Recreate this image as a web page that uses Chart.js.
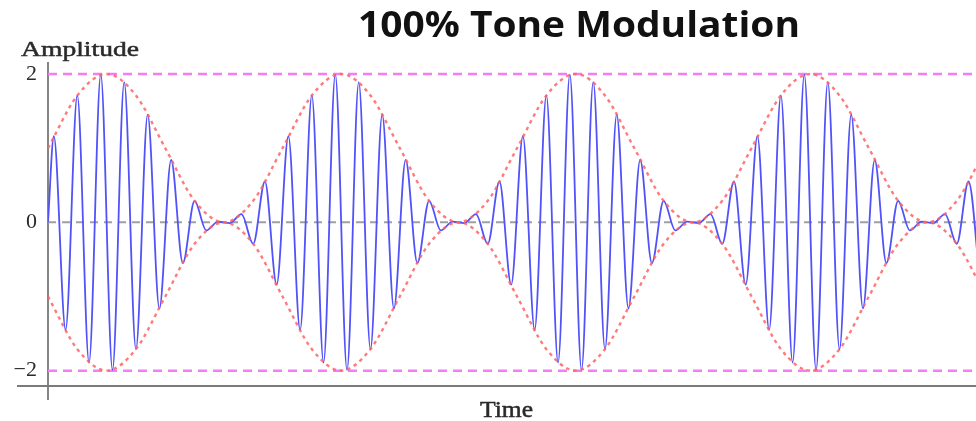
<!DOCTYPE html>
<html>
<head>
<meta charset="utf-8">
<title>100% Tone Modulation</title>
<script src="https://cdn.jsdelivr.net/npm/chart.js@4.4.1/dist/chart.umd.min.js"></script>
<style>
  html, body { margin: 0; padding: 0; background: #fff; }
  #chartBox { width: 976px; height: 421px; }
</style>
</head>
<body>
<div id="chartBox"><canvas id="amChart" width="976" height="421"></canvas></div>
<script>
// axis values
const yTicks = [-2, 0, 2];
const refLevels = [2, -2];
const zeroLevel = 0;
const timeMin = 0;
const timeMax = 39.57;

// carrier peaks, one per half cycle (4 lobes)
const signalStart = 0;
const signalPeaks = [
  1.16, -1.45, 1.71, -1.89, 1.99, -1.99, 1.89, -1.71, 1.45, -1.16, 0.84, -0.55, 0.29, -0.11, 0.01, -0.01, 0.11, -0.29, 0.55, -0.84,
  1.16, -1.45, 1.71, -1.89, 1.99, -1.99, 1.89, -1.71, 1.45, -1.16, 0.84, -0.55, 0.29, -0.11, 0.01, -0.01, 0.11, -0.29, 0.55, -0.84,
  1.16, -1.45, 1.71, -1.89, 1.99, -1.99, 1.89, -1.71, 1.45, -1.16, 0.84, -0.55, 0.29, -0.11, 0.01, -0.01, 0.11, -0.29, 0.55, -0.84,
  1.16, -1.45, 1.71, -1.89, 1.99, -1.99, 1.89, -1.71, 1.45, -1.16, 0.84, -0.55, 0.29, -0.11, 0.01, -0.01, 0.11, -0.29, 0.55, -0.84,
];
const firstPeakTime = 0.25;
const halfCycle = 0.5;

// envelope (red dashes), sampled every 1.25 time units
const envelopeStep = 1.25;
const upperEnvelope = [
  1.0, 1.71, 2.0, 1.71, 1.0, 0.29, 0.0, 0.29,
  1.0, 1.71, 2.0, 1.71, 1.0, 0.29, 0.0, 0.29,
  1.0, 1.71, 2.0, 1.71, 1.0, 0.29, 0.0, 0.29,
  1.0, 1.71, 2.0, 1.71, 1.0, 0.29, 0.0, 0.29,
  1.0,
];
const lowerEnvelope = [
  -1.0, -1.71, -2.0, -1.71, -1.0, -0.29, 0.0, -0.29,
  -1.0, -1.71, -2.0, -1.71, -1.0, -0.29, 0.0, -0.29,
  -1.0, -1.71, -2.0, -1.71, -1.0, -0.29, 0.0, -0.29,
  -1.0, -1.71, -2.0, -1.71, -1.0, -0.29, 0.0, -0.29,
  -1.0,
];

const serif = '"Liberation Serif", "DejaVu Serif", serif';

function levelLine(level) {
  return [
    { x: timeMin, y: level },
    { x: timeMax, y: level },
  ];
}

// text drawn squeezed/stretched to the width it has in the picture
function drawStretched(ctx, text, font, left, baseline, width, color, weight) {
  ctx.save();
  ctx.font = font;
  ctx.fillStyle = color;
  ctx.strokeStyle = color;
  ctx.textAlign = "left";
  ctx.textBaseline = "alphabetic";
  const w = ctx.measureText(text).width;
  ctx.translate(left, baseline);
  ctx.scale(width / w, 1);
  ctx.fillText(text, 0, 0);
  if (weight) {
    ctx.lineWidth = weight;
    ctx.strokeText(text, 0, 0);
  }
  ctx.restore();
}

//AXIS LINES
const axisLines = {
  id: "axisLines",
  beforeDatasetsDraw(chart) {
    const ctx = chart.ctx;
    const area = chart.chartArea;
    ctx.save();
    ctx.strokeStyle = "#666";
    ctx.lineWidth = 1.6;
    ctx.beginPath();
    ctx.moveTo(area.left, area.top);
    ctx.lineTo(area.left, area.bottom + 14);
    ctx.stroke();
    ctx.strokeStyle = "#7a7a7a";
    ctx.lineWidth = 2.2;
    ctx.beginPath();
    ctx.moveTo(17, area.bottom);
    ctx.lineTo(area.right, area.bottom);
    ctx.stroke();
    ctx.restore();
  },
};

//TITLE AND AXIS NAMES
const labelText = {
  id: "labelText",
  afterDraw(chart) {
    const ctx = chart.ctx;
    drawStretched(ctx, "100% Tone Modulation", 'bold 36px "Open Sans", sans-serif', 358, 37, 442, "#111");
    drawStretched(ctx, "Amplitude", "22px " + serif, 21, 56, 118, "#2a2a2a", 0.5);
    drawStretched(ctx, "Time", "23px " + serif, 480, 417, 53, "#2a2a2a", 0.5);
  },
};

document.addEventListener("DOMContentLoaded", () => {
  const signalData = [{ x: timeMin, y: signalStart }].concat(
    signalPeaks.map((v, i) => ({ x: firstPeakTime + i * halfCycle, y: v }))
  );
  const upperData = upperEnvelope.map((v, i) => ({ x: i * envelopeStep, y: v }));
  const lowerData = lowerEnvelope.map((v, i) => ({ x: i * envelopeStep, y: v }));

  const ctx = document.getElementById("amChart").getContext("2d");

  new Chart(ctx, {
    type: "line",
    data: {
      datasets: [
        {
          label: "Upper envelope",
          data: upperData,
          borderColor: "rgba(255, 100, 100, 0.85)",
          borderWidth: 2.4,
          borderDash: [3.5, 4],
          cubicInterpolationMode: "monotone",
          pointRadius: 0,
          order: 1,
        },
        {
          label: "Lower envelope",
          data: lowerData,
          borderColor: "rgba(255, 100, 100, 0.85)",
          borderWidth: 2.4,
          borderDash: [3.5, 4],
          cubicInterpolationMode: "monotone",
          pointRadius: 0,
          order: 1,
        },
        {
          label: "AM signal",
          data: signalData,
          borderColor: "rgb(82, 82, 250)",
          borderWidth: 1.8,
          cubicInterpolationMode: "monotone",
          pointRadius: 0,
          order: 2,
        },
        {
          label: "+2",
          data: levelLine(refLevels[0]),
          borderColor: "#f47cf4",
          borderWidth: 2.5,
          borderDash: [9, 6],
          pointRadius: 0,
          order: 3,
        },
        {
          label: "-2",
          data: levelLine(refLevels[1]),
          borderColor: "#f47cf4",
          borderWidth: 2.5,
          borderDash: [9, 6],
          pointRadius: 0,
          order: 3,
        },
        {
          label: "zero",
          data: levelLine(zeroLevel),
          borderColor: "#a0a0a0",
          borderWidth: 2,
          borderDash: [8, 6],
          pointRadius: 0,
          order: 4,
        },
      ],
    },
    options: {
      responsive: false,
      animation: false,
      layout: { padding: { top: 62, bottom: 35, left: 0, right: 0 } },
      plugins: {
        legend: { display: false },
        tooltip: { enabled: false },
        title: { display: false },
      },
      scales: {
        x: {
          type: "linear",
          min: timeMin,
          max: timeMax,
          display: false,
        },
        y: {
          type: "linear",
          min: -2.207,
          max: 2.161,
          grid: { display: false, drawTicks: false },
          border: { display: false },
          afterFit: (scale) => {
            scale.width = 48;
          },
          afterBuildTicks: (scale) => {
            scale.ticks = yTicks.map((v) => ({ value: v }));
          },
          ticks: {
            padding: 11,
            color: "#2a2a2a",
            font: { family: serif, size: 22 },
            callback: (v) => (v < 0 ? "\u2212" + Math.abs(v) : String(v)),
          },
        },
      },
    },
    plugins: [axisLines, labelText],
  });
});
</script>
</body>
</html>
